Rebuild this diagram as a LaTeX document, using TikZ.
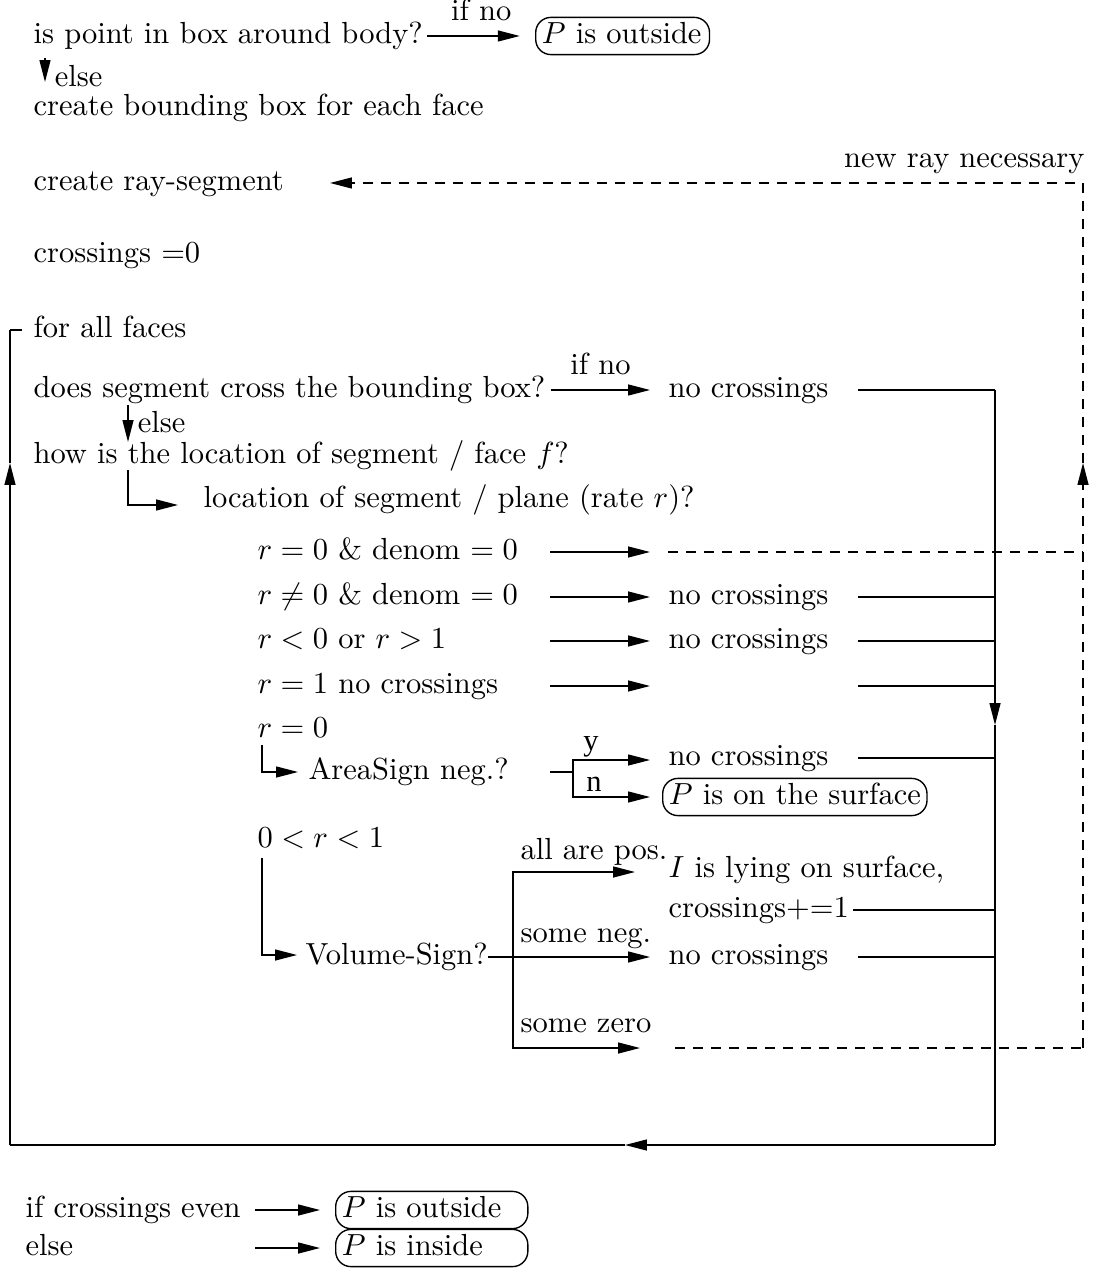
\documentclass[tikz,border=0pt]{standalone}
\usepackage{fontspec}
\newfontfamily\yesno{Liberation Serif}
\usetikzlibrary{arrows.meta}
\begin{document}
\begin{tikzpicture}[x=0.32787pt,y=-0.32787pt,
  txt/.style={anchor=west,inner sep=0pt,text height=7pt,text depth=2pt},
  lbl/.style={inner sep=0pt,text height=7pt,text depth=2pt},
  link/.style={line width=0.45pt},
  flow/.style={link,-{Triangle[length=7.2pt,width=3.6pt]}},
  raydash/.style={link,dash pattern=on 3.3pt off 2.6pt},
  endbox/.style={draw,line width=0.45pt,rounded corners=5pt,anchor=west,
    inner xsep=2pt,inner ysep=1.6pt,align=left,text height=7pt,text depth=2pt}]
\useasboundingbox (0,0) rectangle (1092,1273);

% main column of statements
\node[txt] (q1) at (33,36) {is point in box around body?};
\node[endbox,text width=53pt] (out1) at (535,36) {$P$ is outside};
\node[txt] (q2) at (33,108) {create bounding box for each face};
\node[txt] (q3) at (33,183) {create ray-segment};
\node[txt] (q4) at (33,255) {crossings $=$0};
\node[txt] (q5) at (33,330) {for all faces};
\node[txt] (q6) at (33,390) {does segment cross the bounding box?};
\node[txt] (q7) at (33,456) {how is the location of segment / face $f$?};
\node[txt] (q8) at (203,500) {location of segment / plane (rate $r$)?};

% cases of the rate r
\node[txt] (r1) at (257,552) {$r = 0$ \& denom $= 0$};
\node[txt] (r2) at (257,597) {$r \neq 0$ \& denom $= 0$};
\node[txt] (r3) at (257,641) {$r < 0$ or $r > 1$};
\node[txt] (r4) at (257,686) {$r = 1$ no crossings};
\node[txt] (r5) at (257,730) {$r = 0$};
\node[txt] (area) at (308,772) {AreaSign neg.?};
\node[txt] (r6) at (257,840) {$0 < r < 1$};
\node[txt] (vol) at (305,957) {Volume-Sign?};

% results
\node[txt] (nc1) at (668,390) {no crossings};
\node[txt] (nc2) at (668,597) {no crossings};
\node[txt] (nc3) at (668,641) {no crossings};
\node[txt] (nc4) at (668,758) {no crossings};
\node[endbox] (surf) at (662,797) {$P$ is on the surface};
\node[txt] (lying) at (668,870) {$I$ is lying on surface,};
\node[txt] (plus) at (668,910) {crossings$+{=}$1};
\node[txt] (nc5) at (668,957) {no crossings};

% final decision
\node[txt] (even) at (25,1210) {if crossings even};
\node[txt] (els) at (25,1248) {else};
\node[endbox,text width=59pt] (outB) at (335,1210) {$P$ is outside};
\node[endbox,text width=59pt] (inB) at (335,1248) {$P$ is inside};

% routing points
\coordinate (arrS) at (550,0);
\coordinate (arrE) at (650,0);
\coordinate (lineS) at (858,0);
\coordinate (colRt) at (995,390);
\coordinate (colRm) at (995,725);
\coordinate (colRb) at (995,1145);
\coordinate (loopM) at (625,1145);
\coordinate (colLb) at (10,1145);
\coordinate (colLm) at (10,463);
\coordinate (colLt) at (10,330);
\coordinate (rayT) at (1083,183);
\coordinate (rayM) at (1083,463);
\coordinate (rayB) at (1083,1048);

% top part
\draw[flow,shorten >=5pt] (q1.east) ++(4,0) -- node[lbl,above=3pt]{if no} (out1.west);
\coordinate (e1a) at (45,58); \coordinate (e1b) at (45,82);
\draw[flow] (e1a) -- (e1b) node[inner sep=0pt,anchor=west,xshift=3pt,yshift=2pt]{else};

% loop over faces
\draw[link] (q5.west) ++(-11,0) -- (colLt);
\draw[flow] (colLb) -- (colLm);
\draw[link] (colLm) -- (colLt);

\draw[flow] (q6.east -| 551,0) -- node[lbl,above=3pt]{if no} (q6.east -| arrE);
\coordinate (e2a) at (128,405); \coordinate (e2b) at (128,442);
\draw[flow] (e2a) -- (e2b) node[inner sep=0pt,anchor=west,xshift=3pt,yshift=6.5pt]{else};
\coordinate (el1) at (128,470);
\draw[flow] (el1) |- (178,505);

% rate cases
\draw[flow] (r1.east -| arrS) -- (r1.east -| arrE);
\draw[flow] (r2.east -| arrS) -- (r2.east -| arrE);
\draw[flow] (r3.east -| arrS) -- (r3.east -| arrE);
\draw[flow] (r4.east -| arrS) -- (r4.east -| arrE);
\draw[flow] (262,745) |- (298,772);
\draw[link] (550,772) -- (573,772);
\draw[flow] (573,772) |- (650,760);
\draw[flow] (573,772) |- (650,797);
\node[lbl,font=\yesno] at (591,743) {y};
\node[lbl,font=\yesno] at (594,784) {n};

\draw[flow] (262,858) |- (297,955);
\draw[link] (vol.east) -- (513,957);
\draw[flow] (513,957) |- (635,872);
\draw[flow] (513,957) |- (650,957);
\draw[flow] (513,957) |- (640,1048);
\node[txt] at (520,852) {all are pos.};
\node[txt] at (520,935) {some neg.};
\node[txt] at (520,1025) {some zero};

% gather to the right column
\draw[link] (nc1.east -| lineS) -- (colRt);
\foreach \n in {nc2,nc3,nc4,nc5}
  \draw[link] (\n.east -| lineS) -- (\n.east -| colRt);
\draw[link] (r4.east -| lineS) -- (r4.east -| colRt);
\draw[link] (plus.east) ++(4,0) -- (plus.east -| colRt);
\draw[flow] (colRt) -- (colRm);
\draw[link] (colRm) -- (colRb);
\draw[flow] (colRb) -- (loopM);
\draw[link] (loopM) -- (colLb);

% new ray branch
\draw[raydash] (668,552) -- (r1.east -| rayT);
\draw[raydash] (675,1048) -- (rayB);
\draw[raydash,-{Triangle[length=7.2pt,width=3.6pt]}] (rayB) -- (rayM);
\draw[raydash,-{Triangle[length=7.2pt,width=3.6pt]}] (rayM) -- (rayT) -- (330,183);
\node[lbl,anchor=east] at (1085,160) {new ray necessary};

% final decision arrows
\draw[flow] (255,1210) -- (320,1210);
\draw[flow] (255,1248) -- (320,1248);
\end{tikzpicture}
\end{document}
